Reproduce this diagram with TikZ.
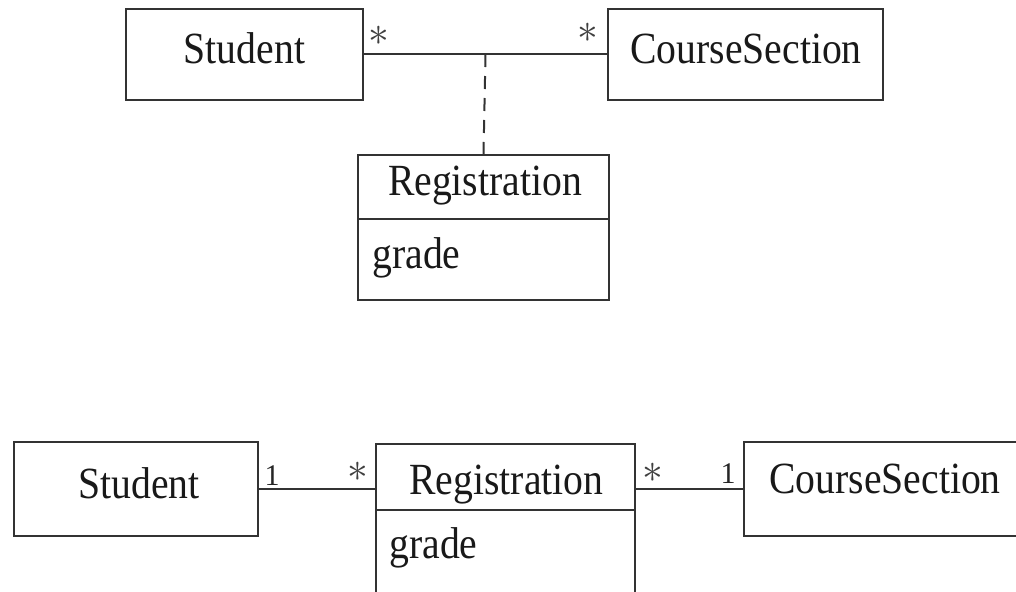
\documentclass[tikz,border=0pt]{standalone}
\usepackage{fontspec}
\setmainfont{Liberation Serif}
\usetikzlibrary{calc}
\newcommand{\tallish}[1]{\scalebox{0.98}[1.1]{#1}}
\begin{document}
\begin{tikzpicture}[x=0.5pt,y=-0.5pt,
  box/.style={draw=black!80, line width=1pt, rectangle, inner sep=0pt},
  lbl/.style={font=\fontsize{20.25pt}{24pt}\selectfont, text=black!90, inner sep=0pt, anchor=base},
  attr/.style={font=\fontsize{20.25pt}{24pt}\selectfont, text=black!90, inner sep=0pt, anchor=base west},
  one/.style={font=\fontsize{15pt}{18pt}\selectfont, text=black!85, inner sep=0pt, anchor=base},
  star/.style={font=\fontsize{22pt}{24pt}\selectfont, text=black!75, inner sep=0pt},
  assoc/.style={draw=black!80, line width=1pt},
  linkline/.style={draw=black!80, line width=1pt, dash pattern=on 6.5pt off 4.5pt}]
\useasboundingbox (0,0) rectangle (1016,591);
\clip (0,0) rectangle (1016,591);
\fill[white] (0,0) rectangle (1016,591);

% ---------- top diagram ----------
\node[box, minimum width=118.5pt, minimum height=45.5pt] (s1) at (244.5,54) {};
\node[box, minimum width=137.5pt, minimum height=45.5pt] (c1) at (745.5,54) {};
\node[box, minimum width=125.5pt, minimum height=32pt] (r1t) at (483.5,187) {};
\node[box, minimum width=125.5pt, minimum height=40.5pt] (r1a) at (483.5,259.5) {};

\node[lbl] (s1l) at (244.5,63) {\tallish{Student}};
\node[lbl] (c1l) at (746,63) {\tallish{CourseSection}};
\node[lbl] (r1l) at (485,195) {\tallish{Registration}};
\node[attr] (r1g) at (372,268) {\tallish{grade}};

\draw[assoc] (s1.east) -- (c1.west);
\coordinate (m1) at ($(s1.east)!0.5!(c1.west)$);
\draw[linkline] (m1) -- (r1t.north);

\node[star] (s1m) at (379,36) {$\ast$};
\node[star] (c1m) at (588,33) {$\ast$};

% ---------- bottom diagram ----------
\node[box, minimum width=122pt, minimum height=47pt] (s2) at (136,489) {};
\node[box, minimum width=129.5pt, minimum height=33pt] (r2t) at (505.5,477) {};
\node[box, minimum width=129.5pt, minimum height=65pt] (r2a) at (505.5,575) {};
\node[box, minimum width=151pt, minimum height=47pt] (c2) at (895,489) {};

\node[lbl] (s2l) at (139,498) {\tallish{Student}};
\node[lbl] (r2l) at (506.5,494) {\tallish{Registration}};
\node[lbl] (c2l) at (885,493) {\tallish{CourseSection}};
\node[attr] (r2g) at (389,558) {\tallish{grade}};

\draw[assoc] (s2.east) -- (s2.east -| r2t.west);
\draw[assoc] (c2.west) -- (c2.west -| r2t.east);

\node[one] (s2m) at (272,485) {1};
\node[star] (r2ml) at (358,472) {$\ast$};
\node[star] (r2mr) at (653,473) {$\ast$};
\node[one] (c2m) at (728,483) {1};
\end{tikzpicture}
\end{document}
